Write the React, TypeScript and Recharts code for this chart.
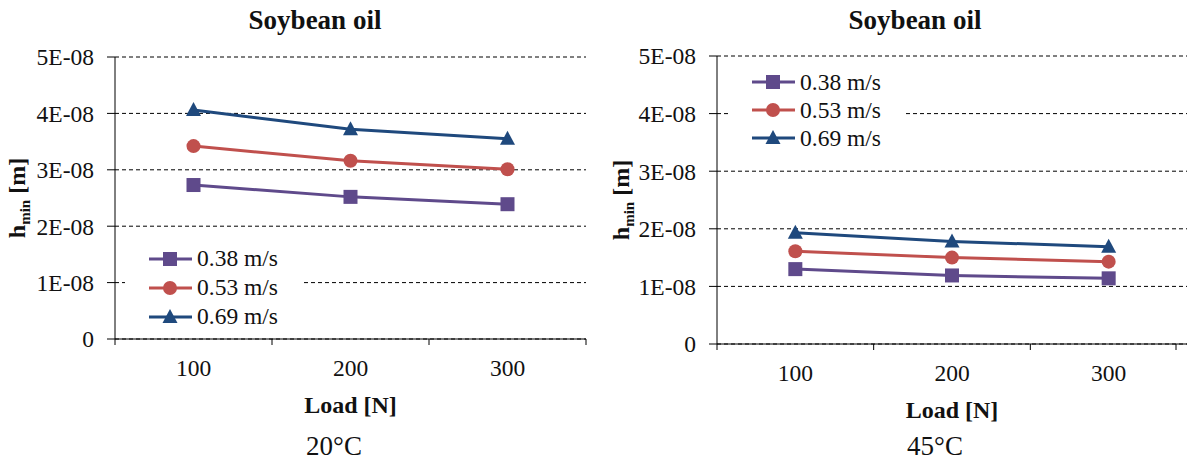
import { LineChart, Line, XAxis, YAxis, CartesianGrid, Legend, Label } from "recharts";

const loads = [100, 200, 300];
const speedNames = ["0.38 m/s", "0.53 m/s", "0.69 m/s"];

// 20°C
const hmin20_038 = [2.73e-8, 2.52e-8, 2.39e-8];
const hmin20_053 = [3.42e-8, 3.16e-8, 3.01e-8];
const hmin20_069 = [4.06e-8, 3.72e-8, 3.55e-8];

// 45°C
const hmin45_038 = [1.3e-8, 1.19e-8, 1.14e-8];
const hmin45_053 = [1.61e-8, 1.5e-8, 1.43e-8];
const hmin45_069 = [1.93e-8, 1.78e-8, 1.69e-8];

const yTicks = [0, 1e-8, 2e-8, 3e-8, 4e-8, 5e-8];
const xTicks = [50, 100, 150, 200, 250, 300, 350];

const font = '"Liberation Serif", "Times New Roman", serif';
const purple = "#5f4a8b";
const red = "#c0504d";
const blue = "#1f497d";

const series = [
  { key: "v038", name: speedNames[0], color: purple, shape: "square" },
  { key: "v053", name: speedNames[1], color: red, shape: "circle" },
  { key: "v069", name: speedNames[2], color: blue, shape: "triangle" },
];

function build(a: number[], b: number[], c: number[]) {
  return loads.map((load, i) => ({ load, v038: a[i], v053: b[i], v069: c[i] }));
}

function Marker({ shape, color, cx, cy }: { shape: string; color: string; cx: number; cy: number }) {
  if (shape === "square") return <rect x={cx - 7} y={cy - 7} width={14} height={14} fill={color} />;
  if (shape === "circle") return <circle cx={cx} cy={cy} r={7} fill={color} />;
  return <polygon points={`${cx},${cy - 8} ${cx + 7.5},${cy + 6} ${cx - 7.5},${cy + 6}`} fill={color} />;
}

const fmtY = (v: number) => (v === 0 ? "0" : `${Math.round(v * 1e8)}E-08`);

function XTick(props: any) {
  const { x, y, payload } = props;
  const axisY = y - 6;
  if (payload.value % 100 === 50) {
    return <line x1={x} x2={x} y1={axisY} y2={axisY + 6} stroke="#000" />;
  }
  return (
    <text x={x} y={axisY + 37} textAnchor="middle" fontFamily={font} fontSize={23.5} fill="#111">
      {payload.value}
    </text>
  );
}

interface PanelProps {
  data: ReturnType<typeof build>;
  left: number;
  width: number;
  yAxisWidth: number;
  top: number;
  bottom: number;
  right: number;
  legendLeft: number;
  legendTop: number;
  rowH: number;
  yLabelX: number;
  caption: string;
  captionX: number;
}

function Panel(p: PanelProps) {
  const legend = () => (
    <div style={{ background: "#fff", width: 178, paddingTop: 4 }}>
      {series.map((s) => (
        <div key={s.key} style={{ display: "flex", alignItems: "center", height: p.rowH }}>
          <svg width={70} height={20} style={{ flex: "none" }}>
            <line x1={24} x2={67} y1={10} y2={10} stroke={s.color} strokeWidth={3} />
            <Marker shape={s.shape} color={s.color} cx={45} cy={10} />
          </svg>
          <span style={{ fontFamily: font, fontSize: 23.5, color: "#111", marginLeft: 2 }}>{s.name}</span>
        </div>
      ))}
    </div>
  );

  return (
    <div style={{ position: "absolute", left: p.left, top: 0, width: p.width, height: 462 }}>
      <div
        style={{
          position: "absolute",
          left: 0,
          width: 630,
          top: 5,
          textAlign: "center",
          fontFamily: font,
          fontWeight: "bold",
          fontSize: 27,
          color: "#111",
        }}
      >
        Soybean oil
      </div>
      <LineChart
        width={p.width}
        height={462}
        data={p.data}
        margin={{ top: p.top, right: p.right, bottom: p.bottom - 30, left: 0 }}
      >
        <CartesianGrid vertical={false} stroke="#000" strokeDasharray="4 3" />
        <XAxis
          dataKey="load"
          type="number"
          domain={[50, 350]}
          ticks={xTicks}
          height={30}
          stroke="#000"
          tickLine={false}
          tickSize={6}
          tickMargin={0}
          tick={<XTick />}
        >
          <Label
            content={(lp: any) => {
              const vb = lp.viewBox;
              return (
                <text
                  x={vb.x + vb.width / 2}
                  y={vb.y + 74}
                  textAnchor="middle"
                  fontFamily={font}
                  fontWeight="bold"
                  fontSize={24}
                  fill="#111"
                >
                  Load [N]
                </text>
              );
            }}
          />
        </XAxis>
        <YAxis
          width={p.yAxisWidth}
          domain={[0, 5e-8]}
          ticks={yTicks}
          tickFormatter={fmtY}
          stroke="#000"
          tickSize={8}
          tickMargin={13}
          tick={{ fontFamily: font, fontSize: 23.5, fill: "#111" }}
        >
          <Label
            content={(lp: any) => {
              const vb = lp.viewBox;
              const cy = vb.y + vb.height / 2;
              return (
                <text
                  x={p.yLabelX}
                  y={cy}
                  transform={`rotate(-90, ${p.yLabelX}, ${cy})`}
                  textAnchor="middle"
                  fontFamily={font}
                  fontWeight="bold"
                  fontSize={24}
                  fill="#111"
                >
                  h
                  <tspan fontSize={15} dy={5}>
                    min
                  </tspan>
                  <tspan dy={-5}> [m]</tspan>
                </text>
              );
            }}
          />
        </YAxis>
        <Legend
          layout="vertical"
          align="center"
          verticalAlign="middle"
          content={legend}
          wrapperStyle={{ left: p.legendLeft, top: p.legendTop, width: 178, bottom: "auto", right: "auto" }}
        />
        {series.map((s) => (
          <Line
            key={s.key}
            dataKey={s.key}
            name={s.name}
            stroke={s.color}
            strokeWidth={3}
            isAnimationActive={false}
            dot={(dp: any) => (
              <Marker key={`${s.key}-${dp.index}`} shape={s.shape} color={s.color} cx={dp.cx} cy={dp.cy} />
            )}
            activeDot={false}
          />
        ))}
      </LineChart>
      <div
        style={{
          position: "absolute",
          left: p.captionX - 60,
          width: 120,
          top: 431,
          textAlign: "center",
          fontFamily: font,
          fontSize: 27,
          color: "#111",
        }}
      >
        {p.caption}
      </div>
    </div>
  );
}

export default function App() {
  return (
    <div style={{ position: "absolute", left: 0, top: 0, width: 1188, height: 462, background: "#fff", overflow: "hidden" }}>
      <Panel
        data={build(hmin20_038, hmin20_053, hmin20_069)}
        left={0}
        width={600}
        yAxisWidth={115}
        top={57}
        bottom={123}
        right={14}
        legendLeft={125}
        legendTop={240}
        rowH={29}
        yLabelX={25}
        caption="20°C"
        captionX={334}
      />
      <Panel
        data={build(hmin45_038, hmin45_053, hmin45_069)}
        left={600}
        width={588}
        yAxisWidth={117}
        top={56}
        bottom={118}
        right={1}
        legendLeft={128}
        legendTop={64}
        rowH={28}
        yLabelX={29}
        caption="45°C"
        captionX={335}
      />
    </div>
  );
}
